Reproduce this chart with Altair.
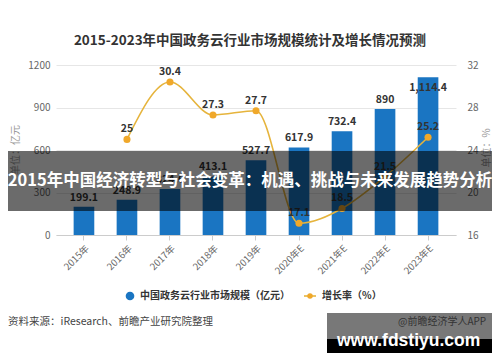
import altair as alt
import pandas as pd

years = ["2015年", "2016年", "2017年", "2018年", "2019年", "2020年E", "2021年E", "2022年E", "2023年E"]
market = [199.1, 248.9, 324.6, 413.1, 527.7, 617.9, 732.4, 890, 1114.4]
growth = [None, 25, 30.4, 27.3, 27.7, 17.1, 18.5, 21.5, 25.2]

title_text = "2015-2023年中国政务云行业市场规模统计及增长情况预测"
banner_text = "2015年中国经济转型与社会变革：机遇、挑战与未来发展趋势分析"
legend_bar = "中国政务云行业市场规模（亿元）"
legend_line = "增长率（%）"
source_text = "资料来源：iResearch、前瞻产业研究院整理"
left_title = "单位：亿元"
right_title = "单位：%"
wm_text = "www.fdstiyu.com"
wm_small = "@前瞻经济学人APP"

FONT = "Noto Sans CJK SC"
BLUE = "#1a75c2"
GOLD = "#e6b43c"
DOT = "#f0a82a"

df = pd.DataFrame({"year": years, "market": market, "growth": growth})

xenc = alt.X("year:N", sort=years, title=None,
             scale=alt.Scale(paddingInner=0.52, paddingOuter=0.41),
             axis=alt.Axis(labelAngle=-45, labelFontSize=9.5, labelColor="#666",
                           labelFont=FONT, domainColor="#cccccc", tickColor="#cccccc",
                           tickSize=5, labelPadding=3, grid=False))

yleft = alt.Y("market:Q", title=None,
              scale=alt.Scale(domain=[0, 1200], nice=False),
              axis=alt.Axis(values=[0, 300, 600, 900, 1200], format="d", labelFontSize=10,
                            labelColor="#666", labelFont=FONT, ticks=False, domain=False,
                            gridColor="#e6e6e6", labelPadding=6))

yright = alt.Y("growth:Q", title=None,
               scale=alt.Scale(domain=[16, 32], nice=False),
               axis=alt.Axis(orient="right", values=[16, 20, 24, 28, 32], format="d", labelFontSize=10,
                             labelColor="#666", labelFont=FONT, ticks=False, domain=False,
                             grid=False, labelPadding=11))

base = alt.Chart(df)

bars = base.mark_bar(color=BLUE).encode(x=xenc, y=yleft)
bar_lbl_lo = base.transform_filter("datum.market < 1000").mark_text(
    dy=-9, fontSize=10.5, fontWeight="bold", color="#333", font=FONT).encode(
    x=alt.X("year:N", sort=years), y="market:Q", text=alt.Text("market:Q", format=",.1~f"))
bar_lbl_hi = base.transform_filter("datum.market >= 1000").mark_text(
    dy=11, fontSize=10.5, fontWeight="bold", color="#333", font=FONT).encode(
    x=alt.X("year:N", sort=years), y="market:Q", text=alt.Text("market:Q", format=",.1~f"))
left_layer = alt.layer(bars, bar_lbl_lo, bar_lbl_hi)

line = base.mark_line(color=GOLD, strokeWidth=1.6, interpolate="monotone").encode(
    x=alt.X("year:N", sort=years), y=yright)
pts = base.mark_point(filled=True, color=DOT, size=50, opacity=1).encode(
    x=alt.X("year:N", sort=years), y="growth:Q")
line_lbl = base.mark_text(dy=-10, fontSize=10.5, fontWeight="bold", color="#333", font=FONT).encode(
    x=alt.X("year:N", sort=years), y="growth:Q", text=alt.Text("growth:Q", format=".1~f"))
right_layer = alt.layer(line, pts, line_lbl)

data_layer = alt.layer(left_layer, right_layer).resolve_scale(y="independent")


def txt(s, x, y, size, color, weight="normal", align="center", angle=0, font=FONT, baseline="middle"):
    kw = dict(fontSize=size, color=color, fontWeight=weight, align=align, font=font, baseline=baseline)
    if angle:
        kw["angle"] = angle
    return alt.Chart(pd.DataFrame({"t": [s]})).mark_text(**kw).encode(
        x=alt.value(x), y=alt.value(y), text="t:N")


def rect(x, x2, y, y2, color, opacity=1.0):
    return alt.Chart(pd.DataFrame({"a": [0]})).mark_rect(color=color, opacity=opacity).encode(
        x=alt.value(x), x2=alt.value(x2), y=alt.value(y), y2=alt.value(y2))


title = txt(title_text, 194, -24, 13.5, "#333", weight="bold")
lt = txt(left_title, -40, 85, 10, "#999", angle=270)
rt = txt(right_title, 431, 83, 10, "#999", angle=270)

leg_dot = alt.Chart(pd.DataFrame({"a": [0]})).mark_point(filled=True, color=BLUE, size=75, opacity=1).encode(
    x=alt.value(74), y=alt.value(231))
leg_t1 = txt(legend_bar, 84, 231, 10, "#333", weight="bold", align="left")
leg_line = alt.Chart(pd.DataFrame({"a": [0]})).mark_rule(color=GOLD, strokeWidth=1.6).encode(
    x=alt.value(248), x2=alt.value(260), y=alt.value(231))
leg_dot2 = alt.Chart(pd.DataFrame({"a": [0]})).mark_point(filled=True, color=DOT, size=30, opacity=1).encode(
    x=alt.value(254), y=alt.value(231))
leg_t2 = txt(legend_line, 266, 231, 10, "#333", weight="bold", align="left")

src = txt(source_text, -48, 257, 10.5, "#444", align="left")

banner = rect(-60, 450, 86, 146, "#000000", 0.58)
banner_t = txt(banner_text, 194, 116, 16.5, "#ffffff", weight="bold")

wm_gray = rect(271, 440, 248, 274, "#787878")
wm_black = rect(271, 440, 274, 288, "#000000")
wm_s = txt(wm_small, 342, 257, 10, "#333", align="left")
wm_t = txt(wm_text, 281, 281, 17.5, "#ffffff", weight="bold", align="left",
           font="Liberation Sans", baseline="alphabetic")

chart = alt.layer(
    data_layer, title, lt, rt, leg_dot, leg_t1, leg_line, leg_dot2, leg_t2, src,
    banner, banner_t, wm_gray, wm_black, wm_s, wm_t
).properties(
    width=400, height=170,
    padding={"left": 48, "right": 36, "top": 57, "bottom": 119},
    autosize=alt.AutoSizeParams(type="none"),
    background="#ffffff",
).configure_view(stroke=None)

chart.save("out.html", embed_options={"renderer": "svg", "actions": False})
